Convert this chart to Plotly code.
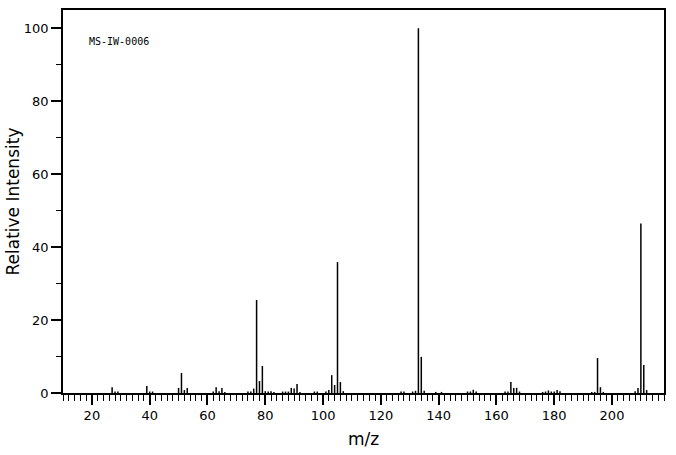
import plotly.graph_objects as go

mz = [27, 28, 29, 39, 40, 41, 50, 51, 52, 53, 62, 63, 64, 65, 66,
      74, 75, 76, 77, 78, 79, 80, 81, 82, 83, 86, 87, 88, 89, 90, 91, 92,
      97, 98, 101, 102, 103, 104, 105, 106, 107,
      127, 128, 131, 132, 133, 134, 135, 139, 141,
      150, 151, 152, 153, 163, 164, 165, 166, 167, 168,
      176, 177, 178, 179, 180, 181, 182,
      193, 194, 195, 196, 197, 208, 209, 210, 211, 212]
intensity = [1.6, 0.4, 0.4, 1.9, 0.4, 0.4, 1.4, 5.5, 0.8, 1.4, 0.4, 1.6, 0.5, 1.4, 0.3,
             0.4, 0.4, 1.2, 25.5, 3.3, 7.4, 0.5, 0.4, 0.5, 0.3, 0.4, 0.4, 0.4, 1.4, 1.2, 2.5, 0.3,
             0.4, 0.4, 0.4, 0.8, 4.9, 2.2, 35.9, 3.0, 0.5,
             0.4, 0.4, 0.4, 0.6, 100.0, 9.9, 0.6, 0.3, 0.3,
             0.4, 0.4, 0.9, 0.4, 0.4, 0.4, 3.0, 1.4, 1.4, 0.4,
             0.3, 0.4, 0.7, 0.4, 0.4, 0.8, 0.5,
             0.3, 0.3, 9.6, 1.6, 0.3, 0.5, 1.4, 46.5, 7.7, 0.8]
sample_id = "MS-IW-0006"
x_label = "m/z"
y_label = "Relative Intensity"

xs, ys = [], []
for m, h in zip(mz, intensity):
    xs += [m, m, None]
    ys += [0, h, None]

fig = go.Figure(go.Scatter(x=xs, y=ys, mode="lines",
                           line=dict(color="black", width=1.5),
                           hoverinfo="skip", showlegend=False))

font = "DejaVu Sans"
fig.update_layout(
    width=676, height=455,
    margin=dict(l=63, r=12, t=10, b=62),
    paper_bgcolor="white", plot_bgcolor="white",
    font=dict(family=font, size=13, color="black"),
    xaxis=dict(range=[10, 218], showgrid=False, zeroline=False, automargin=False,
               showline=True, linecolor="black", linewidth=1.5, mirror=True,
               ticks="outside", ticklen=10, tickwidth=1.5, tickcolor="black",
               tick0=0, dtick=20,
               minor=dict(dtick=2, tick0=0, ticks="outside", ticklen=6,
                          tickwidth=1, tickcolor="black")),
    yaxis=dict(range=[0, 105], showgrid=False, zeroline=False, automargin=False,
               showline=True, linecolor="black", linewidth=1.5, mirror=True,
               ticks="outside", ticklen=10, tickwidth=1.5, tickcolor="black",
               tick0=0, dtick=20,
               minor=dict(dtick=10, tick0=0, ticks="outside", ticklen=5,
                          tickwidth=1, tickcolor="black")),
    annotations=[
        dict(text=sample_id, xref="paper", yref="paper",
             x=0.04, y=0.919, xanchor="left", yanchor="middle",
             showarrow=False,
             font=dict(family="DejaVu Sans Mono", size=10, color="black")),
        dict(text=x_label, xref="paper", yref="paper",
             x=0.5, y=0, yshift=-46, xanchor="center", yanchor="middle",
             showarrow=False, font=dict(size=17, color="black")),
        dict(text=y_label, xref="paper", yref="paper",
             x=0, y=0.5, xshift=-51, xanchor="center", yanchor="middle",
             textangle=-90, showarrow=False, font=dict(size=17, color="black")),
    ],
)

fig.write_html("out.html")
